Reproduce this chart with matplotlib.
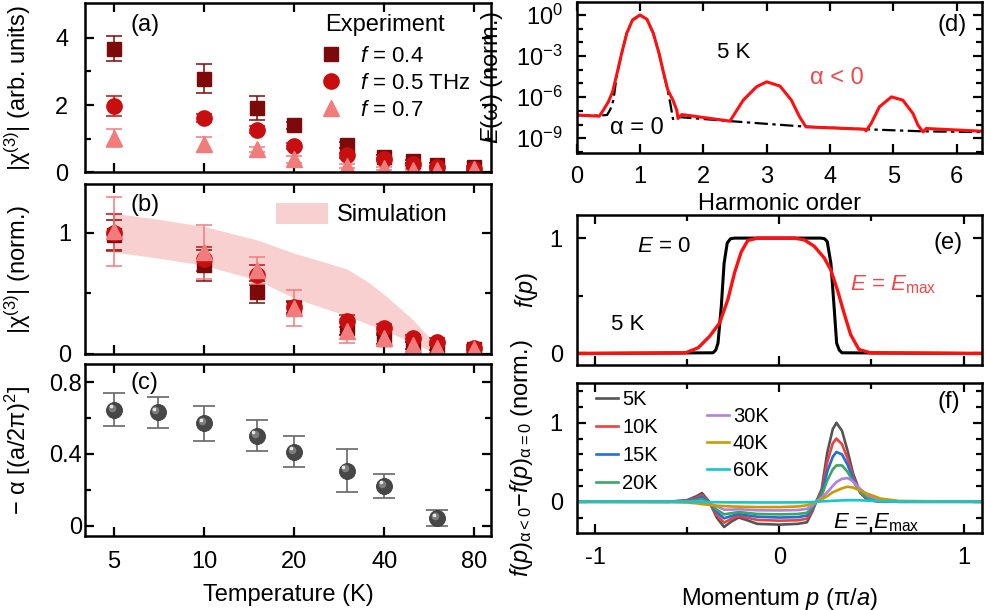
import numpy as np
import matplotlib
matplotlib.use('Agg')
import matplotlib.pyplot as plt
from matplotlib.lines import Line2D
from matplotlib.patches import Patch
from matplotlib.ticker import NullLocator, FixedLocator, NullFormatter
from matplotlib.transforms import ScaledTranslation

plt.rcParams['font.family'] = ['Liberation Sans', 'DejaVu Sans']
plt.rcParams['mathtext.fontset'] = 'custom'
plt.rcParams['mathtext.rm'] = 'Liberation Sans'
plt.rcParams['mathtext.it'] = 'Liberation Sans:italic'
plt.rcParams['mathtext.bf'] = 'Liberation Sans:bold'
plt.rcParams['axes.linewidth'] = 1.8
plt.rcParams['axes.unicode_minus'] = False
plt.rcParams['font.size'] = 17

# ---- data ----
T = [5, 10, 15, 20, 30, 40, 50, 60, 80]

# (a) |chi3| arb. units
a_sq = [3.67, 2.78, 1.92, 1.40, 0.81, 0.46, 0.33, 0.23, 0.17]
a_sq_err = [0.37, 0.43, 0.36, 0.10, 0.08, 0.06, 0.05, 0.04, 0.03]
a_ci = [1.97, 1.61, 1.27, 0.78, 0.50, 0.39, 0.25, 0.17, 0.11]
a_ci_err = [0.29, 0.12, 0.10, 0.08, 0.06, 0.05, 0.04, 0.03, 0.03]
a_tr = [1.01, 0.83, 0.68, 0.39, 0.20, 0.12, 0.07, 0.07, 0.10]
a_tr_err = [0.27, 0.23, 0.08, 0.10, 0.06, 0.05, 0.04, 0.04, 0.03]

# (b) normalised
b_sq = [0.98, 0.73, 0.51, 0.38, 0.21, 0.12, 0.07, 0.05, 0.04]
b_sq_err = [0.12, 0.13, 0.09, 0.05, 0.05, 0.04, 0.03, 0.02, 0.02]
b_ci = [1.00, 0.78, 0.65, 0.39, 0.27, 0.21, 0.13, 0.10, 0.05]
b_ci_err = [0.15, 0.10, 0.08, 0.05, 0.05, 0.04, 0.03, 0.03, 0.02]
b_tr = [1.01, 0.84, 0.69, 0.38, 0.19, 0.13, 0.07, 0.05, 0.04]
b_tr_err = [0.285, 0.22, 0.11, 0.15, 0.10, 0.06, 0.05, 0.04, 0.02]

T_sim = [5, 7, 10, 15, 20, 25, 30, 35, 40, 45, 50, 55, 59, 61]
sim_hi = [1.16, 1.11, 1.05, 0.94, 0.83, 0.76, 0.70, 0.60, 0.49, 0.38, 0.28, 0.17, 0.088, 0.0]
sim_lo = [0.84, 0.79, 0.73, 0.61, 0.46, 0.38, 0.315, 0.25, 0.198, 0.14, 0.088, 0.045, 0.01, 0.0]

# (c) -alpha
T_c = [5, 7, 10, 15, 20, 30, 40, 60]
alpha = [0.646, 0.633, 0.570, 0.501, 0.412, 0.307, 0.222, 0.041]
alpha_err = [0.093, 0.087, 0.100, 0.086, 0.087, 0.118, 0.067, 0.045]

# (d) spectra, log10 of E(w)
h_red = [0, 0.357, 0.42, 0.50, 0.567, 0.63, 0.71, 0.79, 0.88, 1.0, 1.11, 1.21,
         1.30, 1.38, 1.44, 1.52, 1.58, 1.60, 1.66, 2.42, 2.63, 2.84, 3.0, 3.21,
         3.39, 3.52, 3.62, 4.55, 4.57, 4.65, 4.78, 4.97, 5.15, 5.31, 5.39, 5.47,
         5.52, 6.41]
lg_red = [-7.31, -7.39, -6.95, -6.34, -5.61, -4.39, -2.80, -1.34, -0.37, 0.0,
          -0.32, -1.34, -2.80, -4.39, -5.49, -6.22, -6.95, -7.56, -7.27, -7.75,
          -6.22, -5.24, -4.88, -5.19, -6.22, -7.44, -8.17, -8.34, -8.46, -7.92,
          -6.71, -5.98, -6.22, -7.19, -8.05, -8.54, -8.29, -8.49]
h_blk = [0, 0.35, 0.48, 0.53, 0.58, 0.63, 0.71, 0.79, 0.88, 1.0, 1.11, 1.21,
         1.30, 1.38, 1.44, 1.48, 1.52, 1.60, 2.42, 3.0, 3.6, 4.55, 5.0, 5.5, 6.41]
lg_blk = [-7.31, -7.35, -7.30, -6.9, -6.22, -4.5, -2.80, -1.34, -0.37, 0.0,
          -0.32, -1.34, -2.80, -4.39, -5.6, -6.5, -7.6, -7.45, -7.75, -7.95,
          -8.15, -8.34, -8.42, -8.5, -8.55]

# (e) distribution f(p)
p_e0 = [-1.1, -0.36, -0.345, -0.333, -0.315, -0.30, -0.283, -0.265, -0.243,
        0.225, 0.245, 0.26, 0.28, 0.297, 0.311, 0.325, 0.34, 1.1]
f_e0 = [0, 0.006, 0.03, 0.09, 0.41, 0.78, 0.957, 0.995, 1.0,
        1.0, 0.995, 0.97, 0.78, 0.41, 0.09, 0.03, 0.006, 0]
p_em = [-1.1, -0.51, -0.44, -0.378, -0.324, -0.279, -0.243, -0.207, -0.171,
        -0.117, 0.08, 0.135, 0.189, 0.243, 0.279, 0.315, 0.351, 0.387, 0.432,
        0.494, 1.1]
f_em = [0, 0.005, 0.05, 0.15, 0.265, 0.47, 0.70, 0.88, 0.98,
        1.0, 1.0, 0.985, 0.93, 0.83, 0.726, 0.553, 0.352, 0.164, 0.035,
        0.006, 0]

# (f) difference curves
p_f = [-1.1, -0.6, -0.5, -0.45, -0.42, -0.38, -0.34, -0.3, -0.26, -0.22, -0.18,
       -0.12, 0.0, 0.1, 0.15, 0.18, 0.2, 0.23, 0.26, 0.29, 0.31, 0.34, 0.37,
       0.4, 0.44, 0.48, 0.55, 0.65, 1.1]
df_5 = [0, 0, 0.02, 0.07, 0.11, 0.0, -0.2, -0.32, -0.25, -0.20, -0.23, -0.28,
        -0.29, -0.28, -0.26, -0.12, 0.0, 0.16, 0.62, 0.92, 1.0, 0.9, 0.65,
        0.36, 0.11, 0.02, 0.0, 0, 0]
df_10 = [0, 0, 0.015, 0.05, 0.085, 0.0, -0.17, -0.265, -0.215, -0.18, -0.2,
         -0.23, -0.24, -0.235, -0.215, -0.1, 0.0, 0.13, 0.5, 0.74, 0.8, 0.73,
         0.55, 0.32, 0.11, 0.03, 0.0, 0, 0]
df_15 = [0, 0, 0.01, 0.035, 0.06, -0.005, -0.13, -0.21, -0.18, -0.155, -0.17,
         -0.19, -0.2, -0.195, -0.175, -0.08, 0.0, 0.1, 0.38, 0.57, 0.63, 0.6,
         0.47, 0.29, 0.12, 0.04, 0.01, 0, 0]
df_20 = [0, 0, 0.005, 0.02, 0.035, -0.01, -0.1, -0.16, -0.145, -0.13, -0.14,
         -0.155, -0.16, -0.155, -0.14, -0.065, 0.0, 0.08, 0.27, 0.41, 0.46,
         0.46, 0.38, 0.26, 0.12, 0.05, 0.01, 0, 0]
df_30 = [0, 0, 0.0, 0.0, 0.005, -0.02, -0.06, -0.1, -0.1, -0.095, -0.1, -0.108,
         -0.11, -0.105, -0.09, -0.045, 0.0, 0.05, 0.12, 0.2, 0.25, 0.29, 0.30,
         0.26, 0.16, 0.08, 0.02, 0, 0]
df_40 = [0, -0.005, -0.01, -0.02, -0.03, -0.04, -0.05, -0.055, -0.06, -0.062,
         -0.065, -0.068, -0.068, -0.06, -0.045, -0.02, 0.0, 0.03, 0.07, 0.12,
         0.14, 0.17, 0.19, 0.18, 0.14, 0.1, 0.04, 0.01, 0]
df_60 = [0, 0, 0, -0.003, -0.004, -0.005, -0.006, -0.007, -0.008, -0.008,
         -0.008, -0.009, -0.009, -0.008, -0.006, -0.003, 0.0, 0.004, 0.008,
         0.012, 0.014, 0.017, 0.019, 0.02, 0.018, 0.014, 0.008, 0.002, 0]
f_curves = [df_5, df_10, df_15, df_20, df_30, df_40, df_60]
f_labels = ['5K', '10K', '15K', '20K', '30K', '40K', '60K']
f_colors = ['#555555', '#EE4040', '#1F70D8', '#3AA564', '#B57FE0', '#C89B00', '#12C8CC']

c_sq = '#7D0A0A'
c_ci = '#C80E0E'
c_tr = '#F27C7C'
c_sim = '#F9D0D0'


def style(ax, ypad=4, xpad=6):
    ax.tick_params(which='both', direction='in', top=True, right=True, width=1.6)
    ax.tick_params(which='major', length=6.5)
    ax.tick_params(which='minor', length=4)
    ax.tick_params(axis='y', pad=ypad)
    ax.tick_params(axis='x', pad=xpad)


fig = plt.figure(figsize=(9.86, 6.1), dpi=100)

L0, W0 = 0.0862, 0.4118
R0, W1 = 0.5849, 0.4110
ax_a = fig.add_axes([L0, 0.7175, W0, 0.2775])
ax_b = fig.add_axes([L0, 0.4197, W0, 0.2787])
ax_c = fig.add_axes([L0, 0.1213, W0, 0.2815])
ax_d = fig.add_axes([R0, 0.7487, W1, 0.2485])
ax_e = fig.add_axes([R0, 0.4016, W1, 0.2459])
ax_f = fig.add_axes([R0, 0.1257, W1, 0.2459])

eb = dict(capsize=6, elinewidth=1.1, capthick=1.1, linestyle='none')

# ---- (a) ----
ax = ax_a
ax.errorbar(T, a_sq, yerr=a_sq_err, marker='s', ms=10.5, color=c_sq, mec=c_sq, **eb)
ax.errorbar(T, a_ci, yerr=a_ci_err, marker='o', ms=11, color=c_ci, mec=c_ci, **eb)
ax.errorbar(T, a_tr, yerr=a_tr_err, marker='^', ms=12, color=c_tr, mec=c_tr, **eb)
ax.set_ylim(0, 5.03)
ax.set_yticks([0, 2, 4])
ax.yaxis.set_minor_locator(FixedLocator([1, 3]))
ax.set_ylabel('|χ$^{(3)}$| (arb. units)')
h = [Line2D([], [], marker='s', ms=10.5, color=c_sq, ls='none'),
     Line2D([], [], marker='o', ms=11, color=c_ci, ls='none'),
     Line2D([], [], marker='^', ms=12, color=c_tr, ls='none')]
ax.text(0.591, 0.87, 'Experiment', transform=ax.transAxes, ha='left', va='center')
ax.legend(h, ['$f$ = 0.4', '$f$ = 0.5 THz', '$f$ = 0.7'],
          loc='upper left', bbox_to_anchor=(0.585, 0.745), frameon=False,
          fontsize=16, borderpad=0, borderaxespad=0, handlelength=0.8,
          handletextpad=0.9, labelspacing=0.26)
ax.text(0.111, 0.87, '(a)', transform=ax.transAxes, ha='left', va='center')

# ---- (b) ----
ax = ax_b
ax.fill_between(T_sim, sim_lo, sim_hi, color=c_sim, lw=0)
ax.errorbar(T, b_sq, yerr=b_sq_err, marker='s', ms=10.5, color=c_sq, mec=c_sq, **eb)
ax.errorbar(T, b_ci, yerr=b_ci_err, marker='o', ms=11, color=c_ci, mec=c_ci, **eb)
ax.errorbar(T, b_tr, yerr=b_tr_err, marker='^', ms=12, color=c_tr, mec=c_tr, **eb)
ax.set_ylim(0, 1.4)
ax.set_yticks([0, 1])
ax.yaxis.set_minor_locator(FixedLocator([0.5]))
ax.set_ylabel('|χ$^{(3)}$| (norm.)')
ax.legend([Patch(color=c_sim, lw=0)], ['Simulation'], loc='upper left',
          bbox_to_anchor=(0.47, 0.89), frameon=False, fontsize=17, borderpad=0,
          borderaxespad=0, handlelength=2.2, handleheight=1.0, handletextpad=0.4)
ax.text(0.111, 0.876, '(b)', transform=ax.transAxes, ha='left', va='center')

# ---- (c) ----
ax = ax_c
ax.errorbar(T_c, alpha, yerr=alpha_err, marker='none', color='#666666',
            capsize=8, elinewidth=1.2, capthick=1.2, linestyle='none')
ax.plot(T_c, alpha, 'o', ms=11.5, color='#474747', mec='#3a3a3a', mew=0.6)
off1 = ax.transData + ScaledTranslation(-1.6 / 72, 1.6 / 72, fig.dpi_scale_trans)
off2 = ax.transData + ScaledTranslation(-2.4 / 72, 2.4 / 72, fig.dpi_scale_trans)
ax.plot(T_c, alpha, 'o', ms=5.5, color='#7c7c7c', mew=0, transform=off1)
ax.plot(T_c, alpha, 'o', ms=2.6, color='#e8e8e8', mew=0, transform=off2)
ax.set_ylim(-0.058, 0.9)
ax.set_yticks([0, 0.4, 0.8])
ax.set_yticklabels(['0', '0.4', '0.8'])
ax.yaxis.set_minor_locator(FixedLocator([0.2, 0.6]))
ax.set_ylabel('− α [(a/2π)$^{2}$]')
ax.set_xlabel('Temperature (K)', labelpad=8)
ax.text(0.111, 0.889, '(c)', transform=ax.transAxes, ha='left', va='center')

for ax in (ax_a, ax_b, ax_c):
    ax.set_xscale('log')
    ax.set_xlim(4.0, 91)
    ax.xaxis.set_major_locator(FixedLocator([5, 10, 20, 40, 80]))
    ax.xaxis.set_minor_locator(NullLocator())
    ax.yaxis.set_label_coords(-0.128, 0.5)
ax_c.set_xticklabels(['5', '10', '20', '40', '80'])
ax_a.set_xticklabels([])
ax_b.set_xticklabels([])
style(ax_a, ypad=12)
style(ax_b, ypad=10)
style(ax_c, ypad=2, xpad=10.5)

# ---- (d) ----
ax = ax_d
ax.plot(h_blk, np.power(10.0, lg_blk), color='black', lw=1.6,
        ls=(0, (6, 2, 1.5, 2)))
ax.plot(h_red, np.power(10.0, lg_red), color='#FF1010', lw=2.2)
ax.set_yscale('log')
ax.set_ylim(10 ** -10.1, 10 ** 0.97)
ax.set_xlim(0, 6.4)
ax.yaxis.set_major_locator(FixedLocator([1e-9, 1e-6, 1e-3, 1]))
ax.yaxis.set_minor_locator(FixedLocator([10.0 ** k for k in range(-10, 1)]))
ax.yaxis.set_minor_formatter(NullFormatter())
ax.set_yticklabels(['10$^{-9}$', '10$^{-6}$', '10$^{-3}$', '10$^{0}$'])
ax.set_xticks([0, 1, 2, 3, 4, 5, 6])
ax.set_xlabel('Harmonic order', labelpad=4)
ax.set_ylabel('$E$(ω) (norm.)')
ax.yaxis.set_label_coords(-0.177, 0.5)
ax.text(0.346, 0.662, '5 K', transform=ax.transAxes, ha='left', va='center', fontsize=16)
ax.text(0.576, 0.497, 'α < 0', transform=ax.transAxes, ha='left', va='center',
        fontsize=17, color='#F04848')
ax.text(0.082, 0.167, 'α = 0', transform=ax.transAxes, ha='left', va='center', fontsize=17)
ax.text(0.963, 0.846, '(d)', transform=ax.transAxes, ha='right', va='center')
style(ax, ypad=10, xpad=9)

# ---- (e) ----
ax = ax_e
ax.plot(p_e0, f_e0, color='black', lw=2.2)
ax.plot(p_em, f_em, color='#FF1010', lw=2.4)
ax.set_ylim(-0.1, 1.2)
ax.set_yticks([0, 1])
ax.yaxis.set_minor_locator(FixedLocator([0.5]))
ax.set_ylabel('$f$($p$)')
ax.yaxis.set_label_coords(-0.09, 0.5)
ax.text(0.149, 0.789, '$E$ = 0', transform=ax.transAxes, ha='left', va='center', fontsize=16)
ax.text(0.085, 0.267, '5 K', transform=ax.transAxes, ha='left', va='center', fontsize=16)
ax.text(0.674, 0.50, '$E$ = $E$$_{\\mathrm{max}}$', transform=ax.transAxes, ha='left',
        va='baseline', fontsize=16, color='#F04848')
ax.text(0.953, 0.813, '(e)', transform=ax.transAxes, ha='right', va='center')

# ---- (f) ----
ax = ax_f
lines = []
for y, lab, col in zip(f_curves, f_labels, f_colors):
    ln, = ax.plot(p_f, y, color=col, lw=1.9, label=lab)
    lines.append(ln)
ax.set_ylim(-0.4, 1.5)
ax.set_yticks([0, 1])
ax.yaxis.set_minor_locator(FixedLocator([-0.2, 0.2, 0.4, 0.6, 0.8, 1.2, 1.4]))
ax.set_ylabel('$f$($p$)$_{\\mathrm{α<0}}$−$f$($p$)$_{\\mathrm{α=0}}$ (norm.)')
ax.yaxis.set_label_coords(-0.103, 0.5)
ax.set_xlabel('Momentum $p$ (π/$a$)', labelpad=12)
lg1 = ax.legend(lines[:4], f_labels[:4], loc='upper left', bbox_to_anchor=(0.048, 0.955),
                frameon=False, fontsize=14.5, borderpad=0, borderaxespad=0,
                handlelength=1.1, handletextpad=0.2, labelspacing=0.45)
ax.add_artist(lg1)
ax.legend(lines[4:], f_labels[4:], loc='upper left', bbox_to_anchor=(0.321, 0.84),
          frameon=False, fontsize=14.5, borderpad=0, borderaxespad=0,
          handlelength=1.1, handletextpad=0.2, labelspacing=0.38)
ax.text(0.632, 0.035, '$E$ = $E$$_{\\mathrm{max}}$', transform=ax.transAxes, ha='left',
        va='baseline', fontsize=16)
ax.text(0.946, 0.877, '(f)', transform=ax.transAxes, ha='right', va='center')

for ax in (ax_e, ax_f):
    ax.set_xlim(-1.1, 1.1)
    ax.set_xticks([-1, 0, 1])
    ax.xaxis.set_minor_locator(FixedLocator([-0.5, 0.5]))
    style(ax, ypad=10, xpad=10)
ax_e.set_xticklabels([])

fig.savefig('out.png', dpi=100)
